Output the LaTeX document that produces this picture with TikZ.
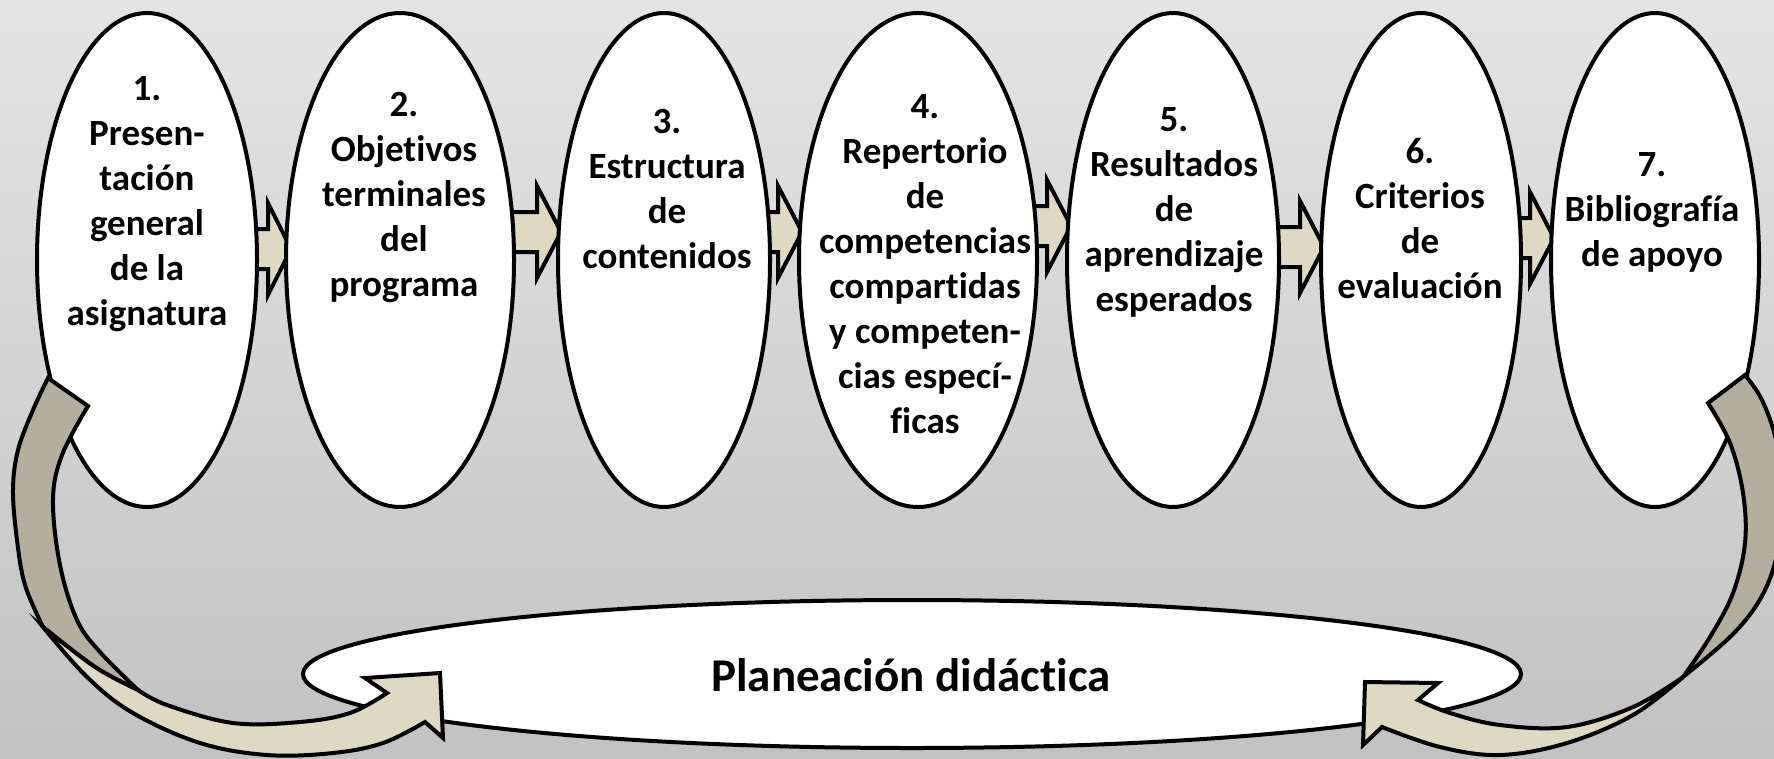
\documentclass[tikz,border=0pt]{standalone}
\usepackage{fontspec}
\setmainfont{Carlito}[Ligatures=NoCommon]
\usetikzlibrary{shapes.geometric}
\definecolor{bgtop}{HTML}{E4E4E4}
\definecolor{bgbot}{HTML}{C2C2C2}
\definecolor{tanlight}{HTML}{DDD9C3}
\definecolor{tandark}{HTML}{B2AF9F}
\tikzset{
  oval/.style={ellipse, draw=black, fill=white, line width=4pt, inner sep=0pt},
  boxarrow/.style={draw=black, fill=tanlight, line width=4pt},
  curvedark/.style={draw=black, fill=tandark, line width=4pt},
  curvelight/.style={draw=black, fill=tanlight, line width=4pt},
  txt/.style={font=\bfseries\fontsize{37}{45}\selectfont, align=center, inner sep=0pt},
  bigtxt/.style={font=\bfseries\fontsize{47}{56}\selectfont, inner sep=0pt}
}
\begin{document}
\begin{tikzpicture}[x=1pt, y=-1pt]
\useasboundingbox (0,0) rectangle (1774,758);
\shade[top color=bgtop, bottom color=bgbot] (0,0) rectangle (1774,758);

% small block arrows (drawn first, partly hidden by the ovals)
\foreach \xa/\xb/\xt/\c in {147/268/291/249, 400/537/561/232, 664/778/802/232, 918/1047/1071/226, 1173/1300/1324/247, 1421/1530/1554/238}{
  \draw[boxarrow] (\xa,\c-20) -- (\xb,\c-20) -- (\xb,\c-46) -- (\xt,\c) -- (\xb,\c+46) -- (\xb,\c+20) -- (\xa,\c+20) -- cycle;
}

% ovals
\node[oval, minimum width=220pt, minimum height=494pt] (e1) at (147,260) {};
\node[oval, minimum width=228pt, minimum height=494pt] (e2) at (400,260) {};
\node[oval, minimum width=212pt, minimum height=494pt] (e3) at (664,260) {};
\node[oval, minimum width=238pt, minimum height=494pt] (e4) at (918,260) {};
\node[oval, minimum width=212pt, minimum height=494pt] (e5) at (1173,260) {};
\node[oval, minimum width=200pt, minimum height=494pt] (e6) at (1421,260) {};
\node[oval, minimum width=208pt, minimum height=494pt] (e7) at (1655,260) {};

\node[txt] (t1) at (147,204) {1.\\Presen-\\tación\\general\\de la\\asignatura};
\node[txt] (t2) at (404,197) {2.\\Objetivos\\terminales\\del\\programa};
\node[txt] (t3) at (667,189) {3.\\Estructura\\de\\contenidos};
\node[txt] (t4) at (925,264) {4.\\Repertorio\\de\\competencias\\compartidas\\y competen-\\cias especí-\\ficas};
\node[txt] (t5) at (1174,212) {5.\\Resultados\\de\\aprendizaje\\esperados};
\node[txt] (t6) at (1420,219) {6.\\Criterios\\de\\evaluación};
\node[txt] (t7) at (1652,212) {7.\\Bibliografía\\de apoyo};

% bottom oval
\node[oval, minimum width=1218pt, minimum height=148pt] (pd) at (912,674) {};
\node[bigtxt] (pdt) at (911,675) {Planeación didáctica};

% left curved arrow
\filldraw[curvedark] (48,378) -- plot[smooth, tension=0.6] coordinates {(48,378) (33,410) (18,450) (13,490) (17,540) (25,585) (43,627)}
  -- plot[smooth, tension=0.6] coordinates {(43,627) (95,667) (138,690)}
  -- plot[smooth, tension=0.6] coordinates {(138,690) (100,652) (77,620) (60,565) (53,500) (62,455) (88,406)} -- cycle;
\filldraw[curvelight] (43,627) -- plot[smooth, tension=0.6] coordinates {(43,627) (87,677) (133,713) (200,743) (267,755) (333,753) (383,743) (425,722)}
  -- (443,738) -- (440,673) -- (365,678) -- (387,693)
  -- plot[smooth, tension=0.6] coordinates {(387,693) (350,713) (300,722) (233,723) (167,705) (138,690)}
  -- plot[smooth, tension=0.6] coordinates {(138,690) (95,667) (43,627)} -- cycle;

% right curved arrow
\filldraw[curvedark] (1745,375) -- plot[smooth, tension=0.6] coordinates {(1745,375) (1762,400) (1776,440) (1782,490) (1780,540) (1765,590) (1735,632) (1683,677)}
  -- plot[smooth, tension=0.6] coordinates {(1683,677) (1710,637) (1733,593) (1745,543) (1743,493) (1730,443) (1708,403)} -- cycle;
\filldraw[curvelight] (1683,677) -- plot[smooth, tension=0.6] coordinates {(1683,677) (1633,715) (1567,743) (1500,755) (1440,747) (1382,727)}
  -- (1363,745) -- (1365,682) -- (1438,683) -- (1418,700)
  -- plot[smooth, tension=0.6] coordinates {(1418,700) (1450,713) (1500,725) (1567,727) (1633,707) (1683,677)} -- cycle;
\end{tikzpicture}
\end{document}
